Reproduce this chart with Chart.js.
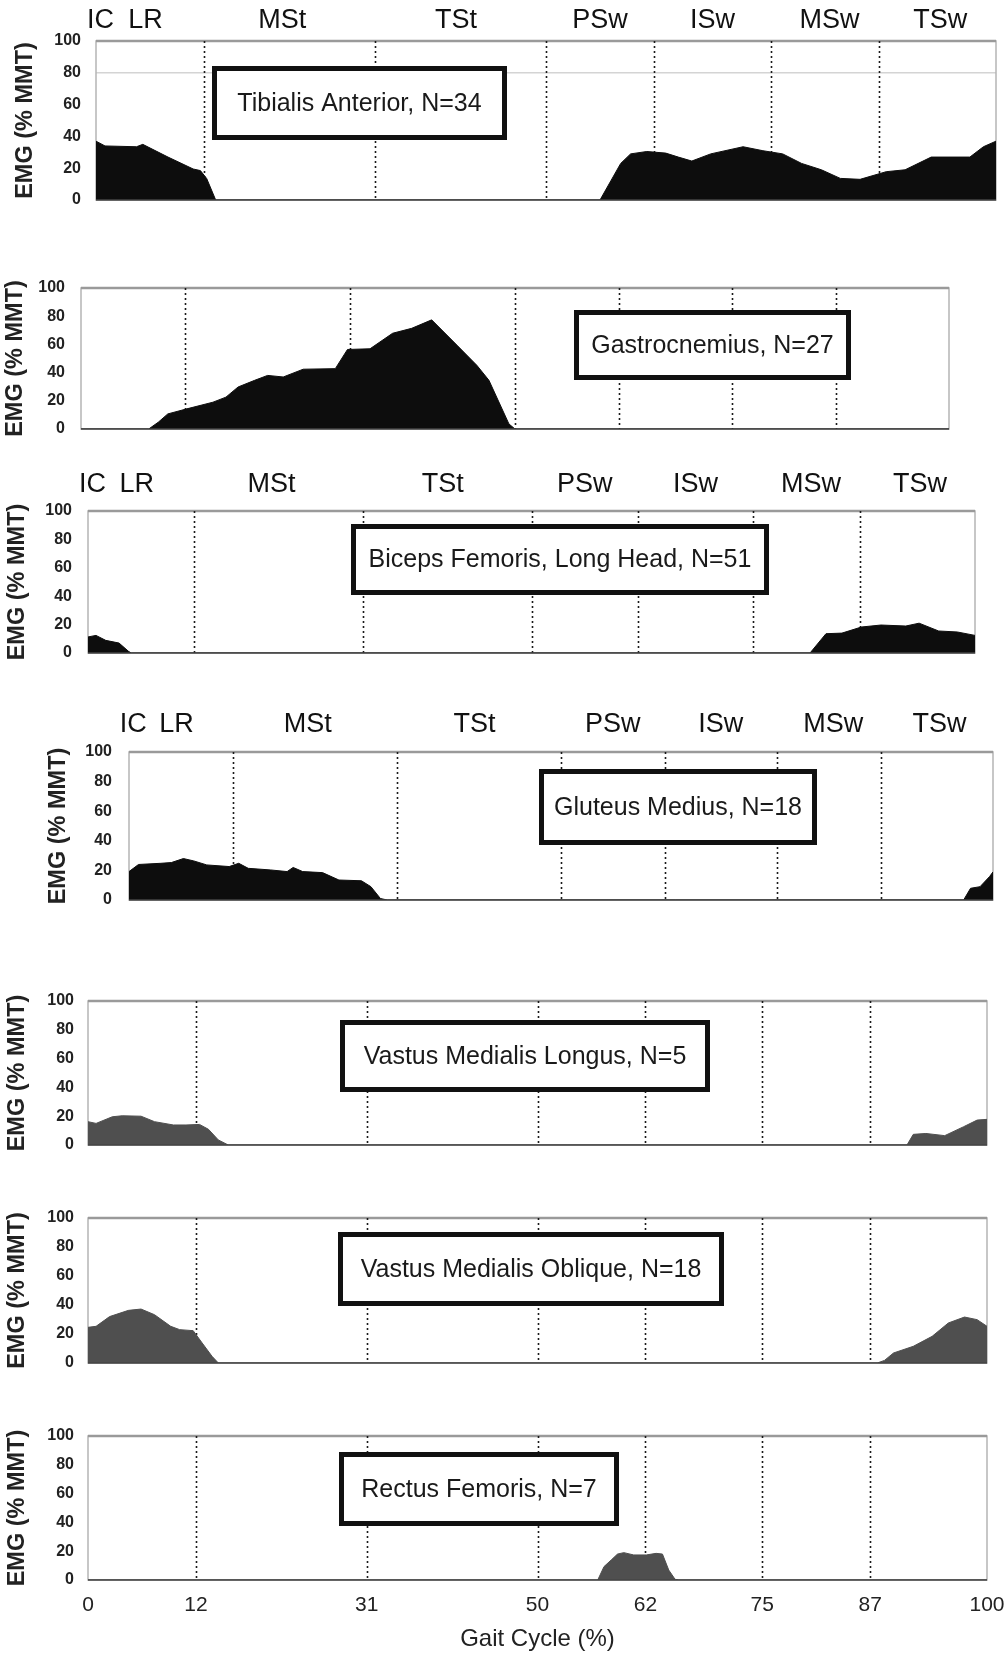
<!DOCTYPE html>
<html><head><meta charset="utf-8">
<script src="https://cdn.jsdelivr.net/npm/chart.js@4.4.1/dist/chart.umd.min.js"></script>
<style>
html,body{margin:0;padding:0;background:#fff;}
#wrap{position:relative;width:1008px;height:1655px;overflow:hidden;background:#fff;}
canvas{position:absolute;left:0;}
</style></head><body><div id="wrap"></div>
<script>
// ---------- data ----------
const gaitTicks = [0, 12, 31, 50, 62, 75, 87, 100];
const phaseDividers = [12, 31, 50, 62, 75, 87];
const phaseNames = ['IC', 'LR', 'MSt', 'TSt', 'PSw', 'ISw', 'MSw', 'TSw'];
const phaseCenters = [0.5, 5.5, 20.7, 40, 56, 68.5, 81.5, 93.8];
const yTickValues = [0, 20, 40, 60, 80, 100];

const taLabel = 'Tibialis Anterior, N=34';
const taX = [0, 1, 4.5, 5.2, 8, 10.8, 11.6, 12.3, 13.3, 56, 57.2, 58.3, 59.4, 61.2, 63.3, 64.7, 66.2, 68.3, 71.9, 74.1, 76.3, 78.4, 80.6, 82.7, 84.9, 87.8, 89.9, 92.8, 97.1, 98.6, 100];
const taY = [37, 34, 33.5, 35, 27, 19.5, 18.5, 13.5, 0, 0, 12, 23, 29, 30.5, 29.5, 27, 24.5, 29, 33.5, 31, 29, 23, 19, 13.6, 13, 17.8, 19, 27, 27, 33.5, 37];

const gaLabel = 'Gastrocnemius, N=27';
const gaX = [0, 7.8, 8.9, 10, 12.2, 15.2, 16.7, 18.1, 20, 21.5, 23.3, 25.6, 29.3, 30.7, 33.3, 35.9, 38.1, 40.4, 43.3, 45.6, 47, 49.3, 50, 100];
const gaY = [0, 0, 4.8, 10.7, 14.3, 19, 22.6, 29.8, 34.5, 38, 36.9, 42.4, 42.8, 56.4, 56.9, 67.9, 71.4, 77.4, 59.5, 45.2, 34.5, 3.6, 0, 0];

const bfLabel = 'Biceps Femoris, Long Head, N=51';
const bfX = [0, 0.9, 2, 3.5, 4.6, 4.9, 81.4, 83.2, 85, 87.2, 89.4, 92.2, 93.7, 95.9, 98, 100];
const bfY = [11.3, 12.4, 8.9, 7, 1, 0, 0, 13.6, 14, 18.3, 19.7, 19, 21, 15.5, 14.8, 12.4];

const gmLabel = 'Gluteus Medius, N=18';
const gmX = [0, 1.1, 3.7, 4.9, 6.3, 7.5, 9, 11.6, 12.7, 13.8, 16.4, 18.3, 19, 20.1, 22.4, 24.3, 26.9, 28, 29.1, 29.9, 96.6, 97.4, 98.5, 99.6, 100];
const gmY = [19.2, 24, 24.8, 25.3, 28, 26.4, 23.7, 22.6, 24.8, 21.4, 20.3, 19.2, 22, 19.2, 18.5, 13.5, 13, 9, 1, 0, 0, 7.9, 9, 15.8, 19];

const vmlLabel = 'Vastus Medialis Longus, N=5';
const vmlX = [0, 0.9, 2.7, 3.8, 5.9, 7.4, 9.5, 10.9, 12.4, 13.4, 14.5, 15.6, 91.1, 91.8, 93.2, 95.3, 97.4, 98.9, 100];
const vmlY = [16.2, 15, 19.6, 20.3, 20, 16.2, 13.9, 13.9, 14.3, 10.9, 3.5, 0, 0, 7.4, 8, 6.5, 12.7, 17.3, 17.8];

const vmoLabel = 'Vastus Medialis Oblique, N=18';
const vmoX = [0, 0.9, 2.4, 4.5, 5.9, 7.4, 9.2, 10.2, 11.7, 12.7, 13.8, 14.5, 87.8, 88.6, 89.6, 91.8, 93.9, 95.7, 97.5, 98.9, 100];
const vmoY = [24.6, 25.3, 32, 36.3, 37.2, 33.3, 25.3, 23, 22.3, 13.8, 4.6, 0, 0, 1.8, 6.9, 11.5, 18.4, 27.6, 31.7, 29.9, 25.3];

const rfLabel = 'Rectus Femoris, N=7';
const rfX = [0, 56.7, 57.4, 58.2, 58.9, 59.6, 60.7, 62.1, 63.2, 63.9, 64.6, 65.3, 65.7, 100];
const rfY = [0, 0, 9.3, 13.9, 18, 19, 17.4, 17.4, 18.5, 18, 6.9, 0.5, 0, 0];

const yTitle = 'EMG (% MMT)';
const xTitle = 'Gait Cycle (%)';

// ---------- layout (page pixels) ----------
const BLACK = '#0d0d0d', GRAY = '#4f4f4f';
const CW = 1060; // canvas width (wider than page; overflow clipped) so label padding never shrinks plot
const panels = [
  {label: taLabel, xs: taX, ys: taY, color: BLACK, L: 96, R: 996, T: 41, B: 200, tickR: 81, titleX: 26, phaseY: 21, box: [212, 66, 507, 140], grid80: true},
  {label: gaLabel, xs: gaX, ys: gaY, color: BLACK, L: 81, R: 949, T: 288, B: 429, tickR: 65, titleX: 16, box: [574, 310, 851, 380]},
  {label: bfLabel, xs: bfX, ys: bfY, color: BLACK, L: 88, R: 975, T: 511, B: 653, tickR: 72, titleX: 18, phaseY: 485, box: [351, 524, 769, 595]},
  {label: gmLabel, xs: gmX, ys: gmY, color: BLACK, L: 129, R: 993, T: 752, B: 900, tickR: 112, titleX: 59, phaseY: 725, box: [539, 769, 817, 845]},
  {label: vmlLabel, xs: vmlX, ys: vmlY, color: GRAY, L: 88, R: 987, T: 1001, B: 1145, tickR: 74, titleX: 18, box: [340, 1020, 710, 1092]},
  {label: vmoLabel, xs: vmoX, ys: vmoY, color: GRAY, L: 88, R: 987, T: 1218, B: 1363, tickR: 74, titleX: 18, box: [338, 1232, 724, 1306]},
  {label: rfLabel, xs: rfX, ys: rfY, color: GRAY, L: 88, R: 987, T: 1436, B: 1580, tickR: 74, titleX: 18, box: [339, 1452, 619, 1526], xAxis: true}
];

const FONT = '"Liberation Sans", Arial, Helvetica, sans-serif';

const decor = {
  id: 'emgDecor',
  beforeDatasetsDraw(chart, args, o) {
    const {ctx, chartArea: a, scales: {x, y}} = chart;
    ctx.save();
    if (o.grid80) {
      ctx.strokeStyle = '#d4d4d4'; ctx.lineWidth = 1.5;
      const py = y.getPixelForValue(80);
      ctx.beginPath(); ctx.moveTo(a.left, py); ctx.lineTo(a.right, py); ctx.stroke();
    }
    // frame
    ctx.strokeStyle = '#b5b5b5'; ctx.lineWidth = 1.5;
    ctx.strokeRect(a.left, a.top, a.right - a.left, a.bottom - a.top);
    ctx.strokeStyle = '#9a9a9a'; ctx.lineWidth = 2.5;
    ctx.beginPath(); ctx.moveTo(a.left, a.top); ctx.lineTo(a.right, a.top); ctx.stroke();
    // dotted phase dividers
    ctx.strokeStyle = '#1a1a1a'; ctx.lineWidth = 1.6; ctx.setLineDash([2, 3]);
    phaseDividers.forEach(v => {
      const px = Math.round(x.getPixelForValue(v)) + 0.5;
      ctx.beginPath(); ctx.moveTo(px, a.top); ctx.lineTo(px, a.bottom); ctx.stroke();
    });
    ctx.restore();
  },
  afterDatasetsDraw(chart, args, o) {
    const {ctx, chartArea: a, scales: {x, y}} = chart;
    ctx.save();
    // baseline
    ctx.strokeStyle = '#444'; ctx.lineWidth = 1.5;
    const py0 = y.getPixelForValue(0);
    ctx.beginPath(); ctx.moveTo(a.left, py0); ctx.lineTo(a.right, py0); ctx.stroke();
    // label box
    const [bx1, by1, bx2, by2] = o.box;
    const t = o.top;
    const lw = 5;
    ctx.fillStyle = '#fff';
    ctx.fillRect(bx1, by1 - t, bx2 - bx1, by2 - by1);
    ctx.strokeStyle = '#111'; ctx.lineWidth = lw;
    ctx.strokeRect(bx1 + lw / 2, by1 - t + lw / 2, bx2 - bx1 - lw, by2 - by1 - lw);
    ctx.fillStyle = '#1a1a1a';
    ctx.font = '25px ' + FONT;
    ctx.textAlign = 'center'; ctx.textBaseline = 'middle';
    ctx.fillText(o.label, (bx1 + bx2) / 2, (by1 + by2) / 2 - t + 1);
    // phase labels
    if (o.phaseY != null) {
      ctx.font = '27px ' + FONT;
      ctx.fillStyle = '#111';
      phaseNames.forEach((n, i) => {
        ctx.fillText(n, x.getPixelForValue(phaseCenters[i]), o.phaseY - t);
      });
    }
    ctx.restore();
  }
};

const wrap = document.getElementById('wrap');
panels.forEach(p => {
  const topPad = Math.min(45, p.T);
  const bottomExtra = p.xAxis ? (1655 - p.B) : 40;
  const canvasTop = p.T - topPad;
  const h = topPad + (p.B - p.T) + bottomExtra;
  const c = document.createElement('canvas');
  c.width = CW; c.height = h;
  c.style.top = canvasTop + 'px';
  c.style.width = CW + 'px'; c.style.height = h + 'px';
  wrap.appendChild(c);

  const pts = p.xs.map((v, i) => ({x: v, y: p.ys[i]}));
  new Chart(c, {
    type: 'line',
    data: {datasets: [{
      data: pts, fill: 'origin', backgroundColor: p.color, borderColor: p.color,
      borderWidth: 1, pointRadius: 0, tension: 0
    }]},
    plugins: [decor],
    options: {
      responsive: false, animation: false, devicePixelRatio: 1,
      layout: {padding: {left: 0, right: CW - p.R, top: topPad, bottom: p.xAxis ? 0 : bottomExtra}},
      plugins: {
        legend: {display: false}, tooltip: {enabled: false},
        emgDecor: {label: p.label, box: p.box, top: canvasTop, phaseY: p.phaseY, grid80: !!p.grid80}
      },
      scales: {
        x: {
          type: 'linear', min: 0, max: 100, display: !!p.xAxis,
          afterBuildTicks: s => { s.ticks = gaitTicks.map(v => ({value: v})); },
          afterFit: s => { if (p.xAxis) s.height = 1655 - p.B; },
          grid: {display: false, drawTicks: false}, border: {display: false},
          ticks: {autoSkip: false, maxRotation: 0, padding: 13, color: '#222', font: {family: FONT, size: 21}},
          title: {display: true, text: xTitle, color: '#222', font: {family: FONT, size: 24}, padding: {top: 0, bottom: 1}}
        },
        y: {
          type: 'linear', min: 0, max: 100,
          afterBuildTicks: s => { s.ticks = yTickValues.map(v => ({value: v})); },
          afterFit: s => { s.width = p.L; },
          grid: {display: false, drawTicks: false}, border: {display: false},
          ticks: {padding: p.L - p.tickR, color: '#222', font: {family: FONT, size: 16, weight: 'bold'}},
          title: {display: true, text: yTitle, color: '#222', font: {family: FONT, size: 23.5, weight: 'bold'}, padding: {top: p.titleX - 14.1, bottom: 0}}
        }
      }
    }
  });
});
</script></body></html>
